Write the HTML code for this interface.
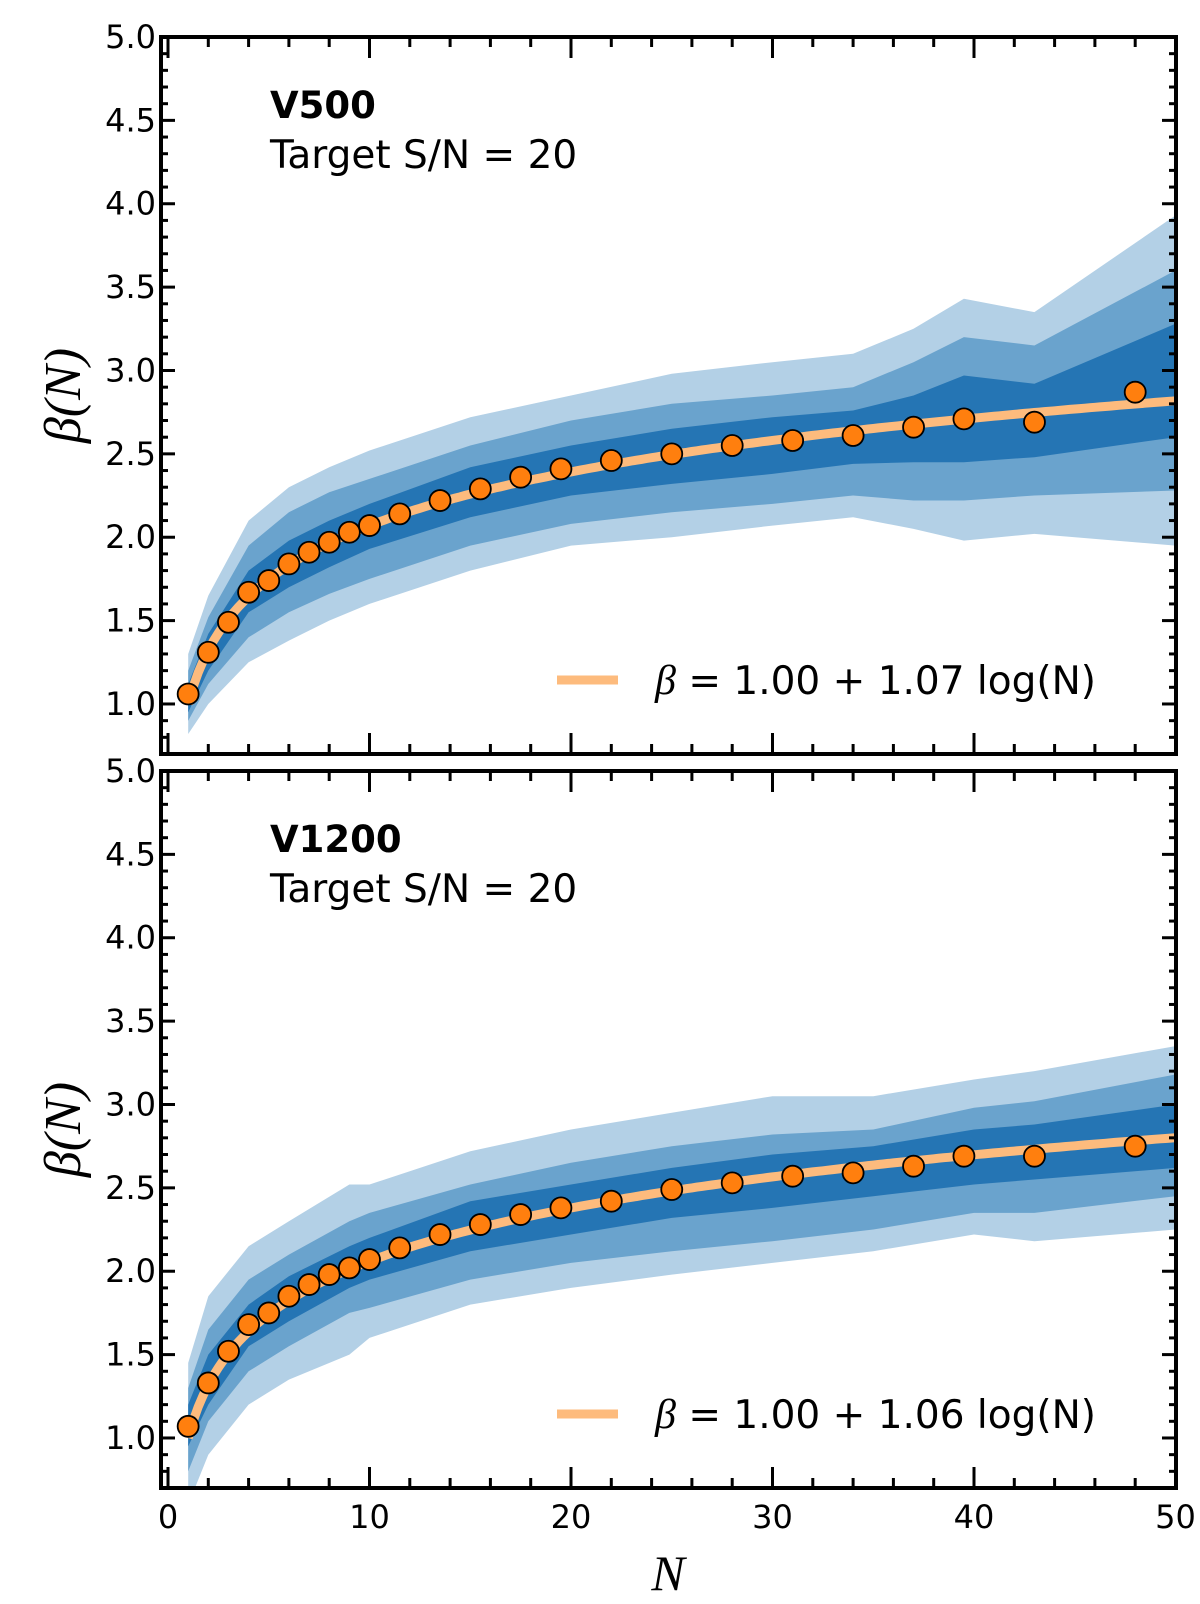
<!DOCTYPE html>
<html><head><meta charset="utf-8"><style>
html,body{margin:0;padding:0;background:#fff;}
svg{display:block;font-family:"DejaVu Sans","Liberation Sans",sans-serif;}
</style></head><body>
<svg id="chart" width="1200" height="1604" viewBox="0 0 1200 1604" xmlns="http://www.w3.org/2000/svg"></svg>
<script>
// ---- data ----
const pointN = [1,2,3,4,5,6,7,8,9,10,11.5,13.5,15.5,17.5,19.5,22,25,28,31,34,37,39.5,43,48];
const topBeta = [1.06,1.31,1.49,1.67,1.74,1.84,1.91,1.97,2.03,2.07,2.14,2.22,2.29,2.36,2.41,2.46,2.50,2.55,2.58,2.61,2.66,2.71,2.69,2.87];
const botBeta = [1.07,1.33,1.52,1.68,1.75,1.85,1.92,1.98,2.02,2.07,2.14,2.22,2.28,2.34,2.38,2.42,2.49,2.53,2.57,2.59,2.63,2.69,2.69,2.75];
const topFitCoef = 1.07;
const botFitCoef = 1.06;
const topBandN = [1,2,4,6,8,10,15,20,25,30,34,37,39.5,43,50];
const topOuterLo = [0.82,1.0,1.25,1.38,1.5,1.6,1.8,1.95,2.0,2.07,2.12,2.05,1.98,2.02,1.95];
const topOuterHi = [1.3,1.65,2.1,2.3,2.42,2.52,2.72,2.85,2.98,3.05,3.1,3.25,3.43,3.35,3.93];
const topMidLo = [0.9,1.12,1.4,1.55,1.66,1.75,1.95,2.08,2.15,2.2,2.25,2.22,2.22,2.25,2.28];
const topMidHi = [1.2,1.52,1.95,2.15,2.27,2.35,2.55,2.7,2.8,2.85,2.9,3.05,3.2,3.15,3.6];
const topInLo = [0.95,1.2,1.55,1.7,1.82,1.93,2.12,2.25,2.32,2.38,2.44,2.45,2.45,2.48,2.6];
const topInHi = [1.12,1.42,1.8,1.98,2.1,2.2,2.42,2.55,2.65,2.72,2.76,2.85,2.97,2.92,3.28];
const botBandN = [1,2,4,6,9,10,15,20,25,30,35,40,43,50];
const botOuterLo = [0.6,0.9,1.2,1.35,1.5,1.6,1.8,1.9,1.98,2.05,2.12,2.22,2.18,2.25];
const botOuterHi = [1.45,1.85,2.15,2.3,2.52,2.52,2.72,2.85,2.95,3.05,3.05,3.15,3.2,3.35];
const botMidLo = [0.8,1.1,1.4,1.55,1.75,1.78,1.95,2.05,2.12,2.18,2.25,2.35,2.35,2.45];
const botMidHi = [1.3,1.65,1.95,2.1,2.3,2.35,2.52,2.65,2.75,2.82,2.85,2.98,3.02,3.18];
const botInLo = [0.95,1.2,1.55,1.7,1.9,1.95,2.12,2.22,2.32,2.38,2.45,2.52,2.55,2.62];
const botInHi = [1.2,1.5,1.8,1.97,2.15,2.2,2.42,2.52,2.62,2.7,2.75,2.85,2.88,3.0];
const yTicks = [1.0,1.5,2.0,2.5,3.0,3.5,4.0,4.5,5.0];
const xTicks = [0,10,20,30,40,50];

const NS="http://www.w3.org/2000/svg";
const svg=document.getElementById('chart');
function el(tag,attrs,parent){const e=document.createElementNS(NS,tag);for(const k in attrs)e.setAttribute(k,attrs[k]);(parent||svg).appendChild(e);return e;}
const X0=168, XS=20.15, XL=161, XR=1176;
const xS=n=>X0+n*XS;

function panel(top,bottom,name,label,beta,coef,bN,oL,oH,mL,mH,iL,iH,showX){
  const yMax=5.0,yMin=0.7,ys=(bottom-top)/(yMax-yMin);
  const yS=v=>top+(yMax-v)*ys;
  const g=el('g',{});
  
  
  const cid='clip-'+name;
  const cp=el('clipPath',{id:cid},g);el('rect',{x:XL,y:top,width:XR-XL,height:bottom-top},cp);
  const plot=el('g',{'clip-path':'url(#'+cid+')'},g);
  function band(lo,hi,color,nm){
    let d='';
    bN.forEach((n,i)=>{d+=(i?'L':'M')+xS(n).toFixed(1)+','+yS(hi[i]).toFixed(1);});
    for(let i=bN.length-1;i>=0;i--)d+='L'+xS(bN[i]).toFixed(1)+','+yS(lo[i]).toFixed(1);
    const p=el('path',{d:d+'Z',fill:color},plot);
    
    
  }
  band(oL,oH,'#b3d0e6',name+'-band-outer');
  band(mL,mH,'#6aa3cd',name+'-band-middle');
  band(iL,iH,'#2575b4',name+'-band-inner');
  let d='';
  for(let n=1;n<=50.01;n+=0.25){d+=(n===1?'M':'L')+xS(n).toFixed(1)+','+yS(1+coef*Math.log10(n)).toFixed(1);}
  const fl=el('path',{d:d,fill:'none',stroke:'#fdbb7d','stroke-width':9},plot);
  
  
  pointN.forEach((n,i)=>{
    const c=el('circle',{cx:xS(n),cy:yS(beta[i]),r:10.5,fill:'#ff7f0e',stroke:'#000','stroke-width':1.8},plot);
    
    
  });
  const tk=el('g',{stroke:'#000','stroke-width':3},g);
  for(let v=7;v<=50;v++){const y=yS(v/10);const maj=v%5===0;const L=maj?14:7;
    el('line',{x1:XL,y1:y,x2:XL+L,y2:y},tk);el('line',{x1:XR,y1:y,x2:XR-L,y2:y},tk);}
  for(let n=0;n<=50;n+=2){const x=xS(n);const maj=n%10===0;const L=maj?21:10;
    el('line',{x1:x,y1:top,x2:x,y2:top+L},tk);el('line',{x1:x,y1:bottom,x2:x,y2:bottom-L},tk);}
  yTicks.forEach(v=>{const t=el('text',{x:XL-5,y:yS(v)+11,'text-anchor':'end','font-size':32},g);t.textContent=v.toFixed(1);
    });
  if(showX)xTicks.forEach(v=>{const t=el('text',{x:xS(v),y:bottom+40,'text-anchor':'middle','font-size':32},g);t.textContent=v;
    });
  const fr=el('rect',{x:XL,y:top,width:XR-XL,height:bottom-top,fill:'none',stroke:'#000','stroke-width':4},g);
  
  const t1=el('text',{x:270,y:top+81,'font-size':37,'font-weight':'bold'},g);t1.textContent=label;
  
  const t2=el('text',{x:270,y:top+131,'font-size':39},g);t2.textContent='Target S/N = 20';
  
  const lg=el('g',{},g);
  
  el('line',{x1:557,y1:top+643,x2:618,y2:top+643,stroke:'#fdbb7d','stroke-width':9},lg);
  const lt=el('text',{x:655,y:top+657,'font-size':39},lg);
  const tb=el('tspan',{'font-family':'"Liberation Serif",serif','font-style':'italic','font-size':42},lt);tb.textContent='β';
  const tr=el('tspan',{},lt);tr.textContent=' = 1.00 + '+coef.toFixed(2)+' log(N)';
  const yl=el('text',{x:0,y:0,transform:'translate(80,'+((top+bottom)/2)+') rotate(-90)','text-anchor':'middle','font-size':52,'font-family':'"Liberation Serif",serif','font-style':'italic'},g);
  yl.textContent='β(N)';
}
panel(37,754,'v500','V500',topBeta,topFitCoef,topBandN,topOuterLo,topOuterHi,topMidLo,topMidHi,topInLo,topInHi,false);
panel(771,1488,'v1200','V1200',botBeta,botFitCoef,botBandN,botOuterLo,botOuterHi,botMidLo,botMidHi,botInLo,botInHi,true);
const xl=el('text',{x:668,y:1590,'text-anchor':'middle','font-size':50,'font-family':'"Liberation Serif",serif','font-style':'italic'});
xl.textContent='N';


</script>
</body></html>
